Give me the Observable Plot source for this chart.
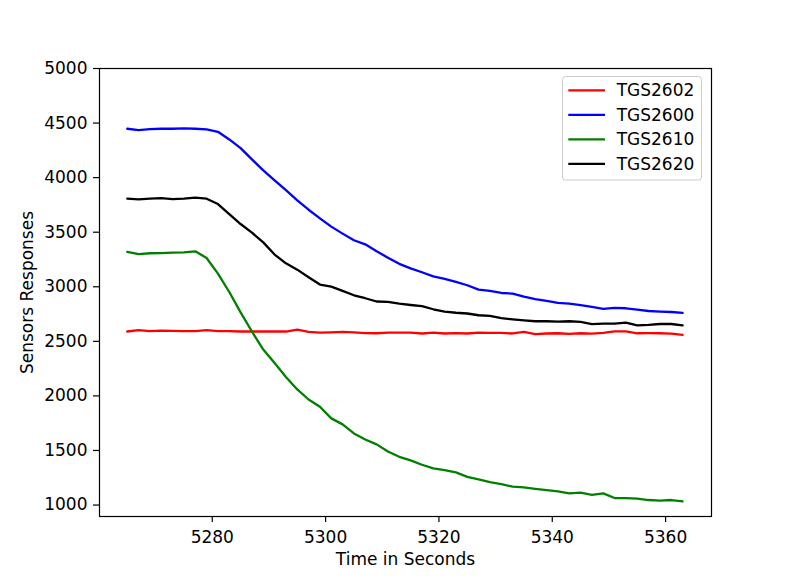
<!DOCTYPE html>
<html>
<head>
<meta charset="utf-8">
<script src="https://cdn.jsdelivr.net/npm/d3@7"></script>
<script src="https://cdn.jsdelivr.net/npm/@observablehq/plot@0.6"></script>
<style>
  html, body { margin: 0; padding: 0; background: #fff; }
  #wrap { position: relative; width: 789px; height: 581px; font-family: "DejaVu Sans", sans-serif; }
  #legend { position: absolute; left: 562px; top: 76px; }
</style>
</head>
<body>
<div id="wrap"></div>
<script>
const time = [5265,5267,5269,5271,5273,5275,5277,5279,5281,5283,
              5285,5287,5289,5291,5293,5295,5297,5299,5301,5303,
              5305,5307,5309,5311,5313,5315,5317,5319,5321,5323,
              5325,5327,5329,5331,5333,5335,5337,5339,5341,5343,
              5345,5347,5349,5351,5353,5355,5357,5359,5361,5363];

const tgs2602 = [2590,2602,2593,2598,2595,2593,2593,2602,2593,2593,
                 2590,2590,2590,2590,2590,2608,2586,2580,2583,2586,
                 2583,2576,2574,2580,2580,2580,2572,2580,2572,2575,
                 2572,2580,2577,2577,2572,2586,2566,2572,2574,2568,
                 2574,2571,2577,2592,2592,2574,2575,2574,2571,2559];

const tgs2600 = [4448,4435,4444,4448,4448,4451,4448,4442,4420,4350,
                 4270,4167,4066,3975,3885,3792,3706,3627,3551,3487,
                 3426,3389,3325,3267,3210,3168,3133,3095,3073,3044,
                 3014,2974,2962,2943,2938,2910,2886,2870,2852,2846,
                 2831,2815,2797,2806,2803,2791,2778,2773,2769,2760];

const tgs2610 = [3319,3300,3307,3309,3313,3316,3325,3264,3121,2952,
                 2765,2590,2425,2302,2174,2059,1967,1900,1794,1739,
                 1656,1601,1556,1491,1442,1409,1369,1336,1320,1299,
                 1258,1235,1211,1192,1168,1162,1149,1137,1125,1107,
                 1113,1094,1107,1064,1064,1058,1046,1040,1046,1034];

const tgs2620 = [3807,3801,3807,3813,3804,3807,3816,3807,3758,3666,
                 3575,3496,3407,3295,3215,3157,3087,3020,3002,2962,
                 2922,2895,2865,2861,2845,2833,2823,2794,2772,2762,
                 2755,2739,2733,2712,2702,2693,2684,2684,2681,2684,
                 2678,2657,2663,2663,2672,2647,2650,2659,2659,2647];

const seriesNames = ["TGS2602", "TGS2600", "TGS2610", "TGS2620"];
const seriesColors = ["#ff0000", "#0000ff", "#008000", "#000000"];
const seriesValues = [tgs2602, tgs2600, tgs2610, tgs2620];

const xTicks = [5280, 5300, 5320, 5340, 5360];
const yTicks = [1000, 1500, 2000, 2500, 3000, 3500, 4000, 4500, 5000];

const xLabel = "Time in Seconds";
const yLabel = "Sensors Responses";

const FS = 17;
const LW = 2.3;

const lineMarks = seriesValues.map((vals, k) =>
  Plot.lineY(vals, {x: time, stroke: seriesColors[k], strokeWidth: LW})
);

const chart = Plot.plot({
  width: 789,
  height: 581,
  marginLeft: 99,
  marginRight: 78,
  marginTop: 68,
  marginBottom: 65,
  style: {fontFamily: "DejaVu Sans", fontSize: FS + "px", color: "#000", background: "#fff", overflow: "visible"},
  x: {domain: [5260.1, 5368.1]},
  y: {domain: [895, 5000]},
  marks: [
    ...lineMarks,
    Plot.frame({stroke: "#000", strokeWidth: 1.2}),
    Plot.axisX({ticks: xTicks, tickFormat: d => String(d), tickSize: 6, tickPadding: 8, label: null, fontSize: FS, stroke: "#000", strokeWidth: 1.2}),
    Plot.axisY({ticks: yTicks, tickFormat: d => String(d), tickSize: 6, tickPadding: 6, label: null, fontSize: FS, stroke: "#000", strokeWidth: 1.2}),
    Plot.text([xLabel], {frameAnchor: "bottom", textAnchor: "middle", dy: 48, lineAnchor: "bottom", fontSize: FS, fill: "#000"}),
    Plot.text([yLabel], {frameAnchor: "left", textAnchor: "middle", dx: -72, rotate: -90, lineAnchor: "middle", fontSize: FS, fill: "#000"})
  ]
});

const wrap = document.getElementById("wrap");
wrap.appendChild(chart);

// legend (inside the axes, upper right)
const ns = "http://www.w3.org/2000/svg";
const lg = document.createElementNS(ns, "svg");
lg.setAttribute("id", "legend");
lg.setAttribute("width", 141);
lg.setAttribute("height", 106);
const box = document.createElementNS(ns, "rect");
box.setAttribute("x", 0.5); box.setAttribute("y", 0.5);
box.setAttribute("width", 139); box.setAttribute("height", 103.5);
box.setAttribute("rx", 3);
box.setAttribute("fill", "rgba(255,255,255,0.8)");
box.setAttribute("stroke", "#cccccc");
lg.appendChild(box);
seriesNames.forEach((name, k) => {
  const cy = 14.3 + k * 24.55;
  const ln = document.createElementNS(ns, "line");
  ln.setAttribute("x1", 6.3); ln.setAttribute("x2", 43);
  ln.setAttribute("y1", cy); ln.setAttribute("y2", cy);
  ln.setAttribute("stroke", seriesColors[k]);
  ln.setAttribute("stroke-width", LW);
  lg.appendChild(ln);
  const tx = document.createElementNS(ns, "text");
  tx.setAttribute("x", 54.7); tx.setAttribute("y", cy);
  tx.setAttribute("dy", "0.35em");
  tx.setAttribute("font-family", "DejaVu Sans");
  tx.setAttribute("font-size", FS);
  tx.setAttribute("fill", "#000");
  tx.textContent = name;
  lg.appendChild(tx);
});
wrap.appendChild(lg);
</script>
</body>
</html>
